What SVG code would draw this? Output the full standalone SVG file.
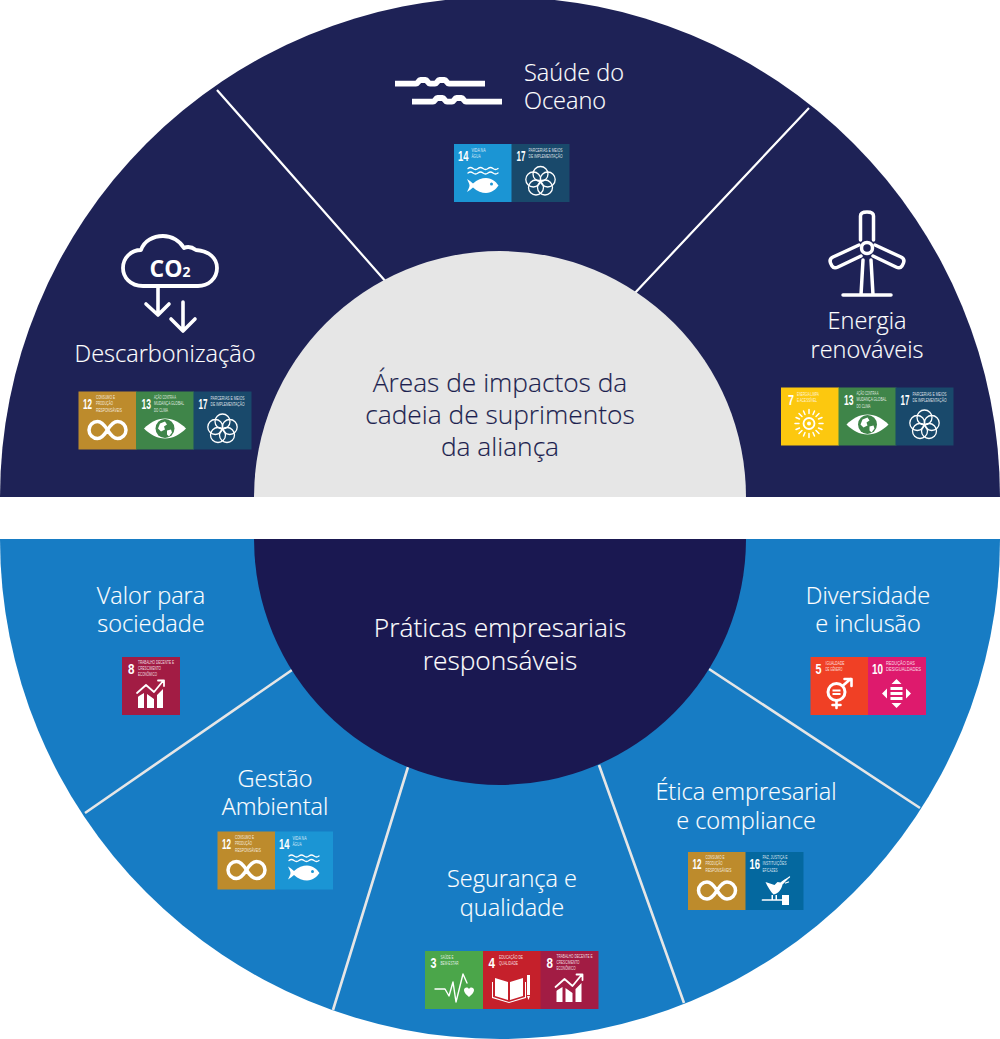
<svg xmlns="http://www.w3.org/2000/svg" xmlns:xlink="http://www.w3.org/1999/xlink" width="1000" height="1039" viewBox="0 0 1000 1039">
<style>
.lbl{font-family:"Open Sans","Noto Sans",sans-serif;font-weight:300;font-size:23.500px;fill:#fff;text-anchor:middle;stroke:#fff;stroke-width:.15px}
.big{font-size:26.300px}
.ctr{fill:#1c1f4f;stroke:#1c1f4f}
.st{text-anchor:start}
.n{font-family:"Liberation Sans",sans-serif;font-weight:700;font-size:15.500px;fill:#fff}
.s{font-family:"Liberation Sans",sans-serif;font-weight:400;font-size:5px;fill:#fff;fill-opacity:.85}
.w{fill:none;stroke:#fff;stroke-linecap:round;stroke-linejoin:round}
.f{fill:#fff}
.div-top{stroke:#fff;stroke-width:2.200;fill:none}
.div-bot{stroke:#e6e6e6;stroke-width:2.600;fill:none}
</style>
<defs>
<g id="ic-inf"><path class="w" stroke-width="3.500" d="M29 38.500C25 32 22 30 19 30A8.500 8.500 0 0 0 19 47C22 47 25 45 29 38.500C33 32 36 30 39 30A8.500 8.500 0 0 1 39 47C36 47 33 45 29 38.500"/></g>
<g id="ic-fish"><path class="w" stroke-width="1.300" d="M14 24.500q2.500-2 5 0t5 0t5 0t5 0t5 0t5 0M14 29q2.500-2 5 0t5 0t5 0t5 0t5 0t5 0"/><path class="f" d="M13 35c2 1 4 3 6 4.500c4-4 9-5.500 13-5.500c6 0 10 4 12.500 7.500c-2.500 3.500-6.500 7.500-12.500 7.500c-4 0-9-1.500-13-5.500c-2 1.500-4 3.500-6 4.500c1-2.500 2.500-4.500 2.500-6.500s-1.500-4-2.500-6.500z"/><circle cx="37.500" cy="40" r="1.500" fill="#1b95d4"/></g>
<g id="t3"><rect width="58" height="58" fill="#4ba64a"/><text class="n" x="5.500" y="17" textLength="6" lengthAdjust="spacingAndGlyphs">3</text><text class="s" x="15.500" y="8" textLength="13" lengthAdjust="spacingAndGlyphs">SAÚDE E</text><text class="s" x="15.500" y="14" textLength="18" lengthAdjust="spacingAndGlyphs">BEM-ESTAR</text><path class="w" stroke-width="1.400" d="M10 38H20L24 45L28 31L31 51L38 23L42 32"/><path class="f" d="M44 38c-2-3-5-1-5 1c0 3 3 5 5 7c2-2 5-4 5-7c0-2-3-4-5-1z"/></g>
<g id="t4"><rect width="58" height="58" fill="#c5202b"/><text class="n" x="5.500" y="17" textLength="6.500" lengthAdjust="spacingAndGlyphs">4</text><text class="s" x="16" y="8" textLength="24" lengthAdjust="spacingAndGlyphs">EDUCAÇÃO DE</text><text class="s" x="16" y="14" textLength="19" lengthAdjust="spacingAndGlyphs">QUALIDADE</text><path class="f" d="M12 27l13 4v18l-13-4zM40 27l-13 4v18l13-4zM10 31v15l16 5l16-5V31h1v16l-17 5l-17-5V31z"/><rect x="44" y="24" width="3" height="20" fill="#fff"/><path class="f" d="M44 45h3l-1.500 4z"/></g>
<g id="t5"><rect width="58" height="58" fill="#f04025"/><text class="n" x="5" y="17" textLength="6" lengthAdjust="spacingAndGlyphs">5</text><text class="s" x="15" y="8" textLength="19" lengthAdjust="spacingAndGlyphs">IGUALDADE</text><text class="s" x="15" y="14" textLength="17" lengthAdjust="spacingAndGlyphs">DE GÊNERO</text><circle class="w" stroke-width="3" cx="26" cy="35" r="8.500"/><path class="w" stroke-width="2.600" d="M32 29L40 22M34 22H41V29M26 44V51M22 48H30"/><path class="f" d="M22 32.500h8v2h-8zM22 36h8v2h-8z"/></g>
<g id="t7"><rect width="58" height="58" fill="#fcc80f"/><text class="n" x="7" y="17" textLength="6" lengthAdjust="spacingAndGlyphs">7</text><text class="s" x="16" y="8" textLength="22" lengthAdjust="spacingAndGlyphs">ENERGIA LIMPA</text><text class="s" x="16" y="14" textLength="20" lengthAdjust="spacingAndGlyphs">E ACESSÍVEL</text><circle class="w" stroke-width="1.800" cx="28" cy="36" r="5.500"/><circle class="f" cx="28" cy="36" r="2"/><path class="w" stroke-width="1.500" d="M28 22v4M28 46v4M14 36h4M38 36h4M18 26l3 3M35 43l3 3M38 26l-3 3M21 43l-3 3M22.500 23.500l1.500 3.500M32 45l1.500 3.500M33.500 23.500L32 27M22.500 48.500L24 45M15 30l3.500 1.500M37.500 40.500L41 42M41 30l-3.500 1.500M15 42l3.500-1.500"/></g>
<g id="t8"><rect width="58" height="58" fill="#a21c44"/><text class="n" x="6" y="17" textLength="6.500" lengthAdjust="spacingAndGlyphs">8</text><text class="s" x="16" y="7" textLength="36" lengthAdjust="spacingAndGlyphs">TRABALHO DECENTE E</text><text class="s" x="16" y="13" textLength="23" lengthAdjust="spacingAndGlyphs">CRESCIMENTO</text><text class="s" x="16" y="19" textLength="19" lengthAdjust="spacingAndGlyphs">ECONÔMICO</text><path class="f" d="M16 40l1-1l5-3v15h-6zM25 37l7 5v9h-7zM35 38l6-6v19h-6z"/><path class="w" stroke-width="1.800" d="M15 36L24 28L32 35L41 24M36 23.500H42V29"/></g>
<g id="t10"><rect width="58" height="58" fill="#de1a6d"/><text class="n" x="4" y="17" textLength="11" lengthAdjust="spacingAndGlyphs">10</text><text class="s" x="18" y="8" textLength="29" lengthAdjust="spacingAndGlyphs">REDUÇÃO DAS</text><text class="s" x="18" y="14" textLength="35" lengthAdjust="spacingAndGlyphs">DESIGUALDADES</text><path class="f" d="M28.500 22l5 5h-10zM28.500 51l5-5h-10zM14 36.500l5-5v10zM43 36.500l-5-5v10zM22.500 30h12v3h-12zM22.500 35h12v3h-12zM22.500 40h12v3h-12z"/></g>
<g id="t12"><rect width="58" height="58" fill="#bd8b2c"/><text class="n" x="4.500" y="17" textLength="9" lengthAdjust="spacingAndGlyphs">12</text><text class="s" x="17.500" y="7" textLength="19" lengthAdjust="spacingAndGlyphs">CONSUMO E</text><text class="s" x="17.500" y="13" textLength="17" lengthAdjust="spacingAndGlyphs">PRODUÇÃO</text><text class="s" x="17.500" y="20" textLength="26" lengthAdjust="spacingAndGlyphs">RESPONSÁVEIS</text><use href="#ic-inf" xlink:href="#ic-inf"/></g>
<g id="t13"><rect width="58" height="58" fill="#3f8549"/><text class="n" x="5.500" y="17" textLength="9.500" lengthAdjust="spacingAndGlyphs">13</text><text class="s" x="18" y="7" textLength="22" lengthAdjust="spacingAndGlyphs">AÇÃO CONTRA A</text><text class="s" x="18" y="13" textLength="30" lengthAdjust="spacingAndGlyphs">MUDANÇA GLOBAL</text><text class="s" x="18" y="20" textLength="14" lengthAdjust="spacingAndGlyphs">DO CLIMA</text><path class="f" d="M8 37C14 31 21 27 29 27S44 31 50 37C44 43 37 47 29 47S14 43 8 37z"/><circle cx="29" cy="37" r="9.500" fill="#3f8549"/><path class="f" d="M24 32l5-2l2 3l-3 2l1 3l-4 2l-3-3zM31 39l4-1l1 3l-3 4l-2-2z"/></g>
<g id="t14"><rect width="58" height="58" fill="#1b95d4"/><text class="n" x="4" y="17" textLength="10.500" lengthAdjust="spacingAndGlyphs">14</text><text class="s" x="17.500" y="8" textLength="14" lengthAdjust="spacingAndGlyphs">VIDA NA</text><text class="s" x="17.500" y="14" textLength="9" lengthAdjust="spacingAndGlyphs">ÁGUA</text><use href="#ic-fish" xlink:href="#ic-fish"/></g>
<g id="t16"><rect width="58" height="58" fill="#04689f"/><text class="n" x="4" y="17" textLength="10.500" lengthAdjust="spacingAndGlyphs">16</text><text class="s" x="17" y="7" textLength="25" lengthAdjust="spacingAndGlyphs">PAZ, JUSTIÇA E</text><text class="s" x="17" y="13" textLength="24" lengthAdjust="spacingAndGlyphs">INSTITUIÇÕES</text><text class="s" x="17" y="20" textLength="15" lengthAdjust="spacingAndGlyphs">EFICAZES</text><path class="f" d="M20 30c3 1 6 2 9 3l3-3l3 .5c2-2 4-3 6-4l1 1c-2 2-3 3-5 5c-1 5-4 9-9 10c-3-3-6-8-8-12.500z"/><path class="w" stroke-width="1.300" d="M36 31l8-6M40 31l3-1"/><path class="w" stroke-width="1.700" d="M17 48H37"/><rect x="36.500" y="43" width="7" height="10" fill="#fff"/><rect x="26" y="43" width="1.500" height="5" fill="#fff"/><rect x="30" y="43" width="1.500" height="5" fill="#fff"/></g>
<g id="t17"><rect width="58" height="58" fill="#19496b"/><text class="n" x="5" y="17" textLength="9" lengthAdjust="spacingAndGlyphs">17</text><text class="s" x="17" y="8" textLength="34" lengthAdjust="spacingAndGlyphs">PARCERIAS E MEIOS</text><text class="s" x="17" y="14" textLength="34" lengthAdjust="spacingAndGlyphs">DE IMPLEMENTAÇÃO</text><g class="w" stroke-width="1.300"><circle cx="29" cy="30" r="7.500"/><circle cx="21.800" cy="35.500" r="7.500"/><circle cx="36.200" cy="35.500" r="7.500"/><circle cx="24.500" cy="43.500" r="7.500"/><circle cx="33.500" cy="43.500" r="7.500"/></g></g>
</defs>

<g id="semicircles">
<path d="M0 497A500 500 0 0 1 1000 497Z" fill="#1e2256"/>
<path d="M0 539A500 500 0 0 0 1000 539Z" fill="#177cc4"/>
</g>

<g id="connectors">
<path class="div-top" d="M217 90L387 283M809 108L633 295"/>
<path class="div-bot" d="M292 670L85 813M408 767L333 1010M599 765L684 1003M709 669L920 808"/>
</g>

<g id="centre-top"><path d="M254 497A246 246 0 0 1 746 497Z" fill="#e6e6e6"/>
<text class="lbl big ctr" x="500" y="392">Áreas de impactos da</text><text class="lbl big ctr" x="500" y="424">cadeia de suprimentos</text><text class="lbl big ctr" x="500" y="456">da aliança</text></g>
<g id="centre-bottom"><path d="M254 539A246 246 0 0 0 746 539Z" fill="#1a1851"/>
<text class="lbl big" x="500" y="637">Práticas empresariais</text><text class="lbl big" x="500" y="670">responsáveis</text></g>

<g id="saude-oceano">
<path class="w" stroke-width="5.800" style="stroke-linecap:butt;stroke-linejoin:miter" d="M395 83.700H416C418 83.700 418.500 80 420.500 80H425.500C427.500 80 428 83.700 430 83.700H435C437 83.700 437.500 80 439.500 80H444.500C446.500 80 447 83.700 449 83.700H485M412 101.700H433C435 101.700 435.500 98 437.500 98H442.500C444.500 98 445 101.700 447 101.700H452C454 101.700 454.500 98 456.500 98H461.500C463.500 98 464 101.700 466 101.700H502"/>
<text class="lbl st" x="524" y="81">Saúde do</text><text class="lbl st" x="524" y="109">Oceano</text>
<use href="#t14" xlink:href="#t14" x="454" y="144"/><use href="#t17" xlink:href="#t17" x="511.500" y="144"/>
</g>

<g id="descarbonizacao">
<path class="w" stroke-width="3.800" d="M143 286C130 286 123 277 123 268C123 258 131 250 141 250C144 241 153 236 163 236C172 236 180 241 184 248C188 246 192 247 196 250C209 251 217 258 217 268C217 279 208 286 198 286Z"/>
<text x="170" y="277" style="font-family:'Open Sans',sans-serif;font-weight:700;font-size:23px;fill:#fff;text-anchor:middle">CO<tspan font-size="14">2</tspan></text>
<path class="w" stroke-width="3.600" d="M158 288V315M146 304L158 315L169 304M183 302V330M171 319L183 331L195 319"/>
<text class="lbl" x="165" y="362">Descarbonização</text>
<use href="#t12" xlink:href="#t12" x="78.500" y="391.500"/><use href="#t13" xlink:href="#t13" x="136" y="391.500"/><use href="#t17" xlink:href="#t17" x="193.500" y="391.500"/>
</g>

<g id="energia">
<path class="w" stroke-width="3.500" d="M860.500 240V216Q860.500 212 867 212T873.500 216V240M859 245L833 257Q829 259 830.500 263L832 266Q834 269 838 267L861 256M875 245L901 257Q905 259 903.500 263L902 266Q900 269 896 267L873 256M863 260L861 295M871 260L873 295M843 295H891"/>
<circle class="w" stroke-width="3.500" cx="867" cy="248" r="5.500"/>
<text class="lbl" x="867" y="329">Energia</text><text class="lbl" x="867" y="358">renováveis</text>
<use href="#t7" xlink:href="#t7" x="781" y="387.500"/><use href="#t13" xlink:href="#t13" x="838.500" y="387.500"/><use href="#t17" xlink:href="#t17" x="895.500" y="387.500"/>
</g>

<g id="valor"><text class="lbl" x="151" y="604">Valor para</text><text class="lbl" x="151" y="632">sociedade</text><use href="#t8" xlink:href="#t8" x="122" y="657"/></g>
<g id="diversidade"><text class="lbl" x="868" y="604">Diversidade</text><text class="lbl" x="868" y="632">e inclusão</text><use href="#t5" xlink:href="#t5" x="810.500" y="657"/><use href="#t10" xlink:href="#t10" x="868" y="657"/></g>
<g id="gestao"><text class="lbl" x="275" y="787">Gestão</text><text class="lbl" x="275" y="815">Ambiental</text><use href="#t12" xlink:href="#t12" x="217.500" y="831.500"/><use href="#t14" xlink:href="#t14" x="275" y="831.500"/></g>
<g id="etica"><text class="lbl" x="746" y="800">Ética empresarial</text><text class="lbl" x="746" y="829">e compliance</text><use href="#t12" xlink:href="#t12" x="688" y="852"/><use href="#t16" xlink:href="#t16" x="745.500" y="852"/></g>
<g id="seguranca"><text class="lbl" x="512" y="887">Segurança e</text><text class="lbl" x="512" y="916">qualidade</text><use href="#t3" xlink:href="#t3" x="425" y="951"/><use href="#t4" xlink:href="#t4" x="483" y="951"/><use href="#t8" xlink:href="#t8" x="540.500" y="951"/></g>
</svg>
